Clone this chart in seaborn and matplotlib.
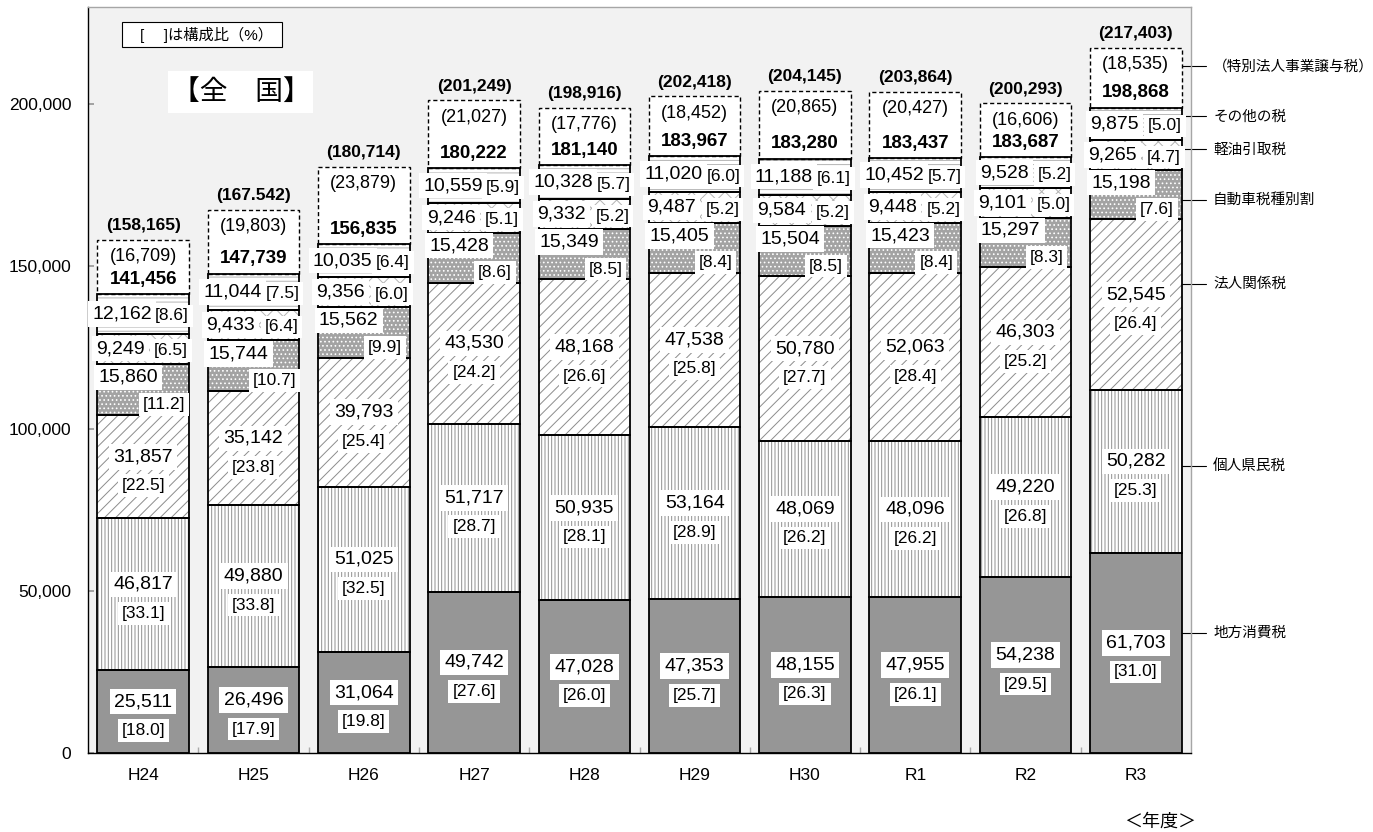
import numpy as np
import matplotlib
matplotlib.use("Agg")
import matplotlib.pyplot as plt
from matplotlib.patches import Rectangle
from matplotlib.ticker import FuncFormatter
import seaborn as sns

# ---------------- data ----------------
years = ["H24", "H25", "H26", "H27", "H28", "H29", "H30", "R1", "R2", "R3"]
chiho_shohi = [25511, 26496, 31064, 49742, 47028, 47353, 48155, 47955, 54238, 61703]
kojin_kenmin = [46817, 49880, 51025, 51717, 50935, 53164, 48069, 48096, 49220, 50282]
hojin_kankei = [31857, 35142, 39793, 43530, 48168, 47538, 50780, 52063, 46303, 52545]
jidosha = [15860, 15744, 15562, 15428, 15349, 15405, 15504, 15423, 15297, 15198]
keiyu = [9249, 9433, 9356, 9246, 9332, 9487, 9584, 9448, 9101, 9265]
sonota = [12162, 11044, 10035, 10559, 10328, 11020, 11188, 10452, 9528, 9875]
tokubetsu = [16709, 19803, 23879, 21027, 17776, 18452, 20865, 20427, 16606, 18535]
subtotal = [141456, 147739, 156835, 180222, 181140, 183967, 183280, 183437, 183687, 198868]
grand_total_labels = ["(158,165)", "(167.542)", "(180,714)", "(201,249)", "(198,916)",
                      "(202,418)", "(204,145)", "(203,864)", "(200,293)", "(217,403)"]

chiho_pct = [18.0, 17.9, 19.8, 27.6, 26.0, 25.7, 26.3, 26.1, 29.5, 31.0]
kojin_pct = [33.1, 33.8, 32.5, 28.7, 28.1, 28.9, 26.2, 26.2, 26.8, 25.3]
hojin_pct = [22.5, 23.8, 25.4, 24.2, 26.6, 25.8, 27.7, 28.4, 25.2, 26.4]
jidosha_pct = [11.2, 10.7, 9.9, 8.6, 8.5, 8.4, 8.5, 8.4, 8.3, 7.6]
keiyu_pct = [6.5, 6.4, 6.0, 5.1, 5.2, 5.2, 5.2, 5.2, 5.0, 4.7]
sonota_pct = [8.6, 7.5, 6.4, 5.9, 5.7, 6.0, 6.1, 5.7, 5.2, 5.0]

series_names = ["地方消費税", "個人県民税", "法人関係税", "自動車税種別割",
                "軽油引取税", "その他の税", "（特別法人事業譲与税）"]

# ---------------- style ----------------
sns.set_theme(style="ticks")
plt.rcParams["font.family"] = ["Liberation Sans", "Noto Sans CJK JP", "DejaVu Sans"]
plt.rcParams["hatch.linewidth"] = 0.7
plt.rcParams["text.color"] = "black"
plt.rcParams["xtick.color"] = "black"
plt.rcParams["ytick.color"] = "black"

W, H = 1373, 832
fig = plt.figure(figsize=(W / 100, H / 100), dpi=100)
ax = fig.add_axes([88 / W, 79 / H, 1103 / W, 746 / H])
ax.set_facecolor("#f2f2f2")

layers = [chiho_shohi, kojin_kenmin, hojin_kankei, jidosha, keiyu, sonota, tokubetsu]
pcts = [chiho_pct, kojin_pct, hojin_pct, jidosha_pct, keiyu_pct, sonota_pct]
arr = np.array(layers, dtype=float)
tops = np.cumsum(arr, axis=0)
bottoms = tops - arr

styles = [
    dict(face="#969696", hatch=None, hc="#969696"),
    dict(face="white", hatch="|||||", hc="#8f8f8f"),
    dict(face="white", hatch="///", hc="#8c8c8c"),
    dict(face="#a3a3a3", hatch="....", hc="white"),
    dict(face="white", hatch="xx", hc="#b4b4b4"),
    dict(face="white", hatch="----", hc="#b4b4b4"),
    dict(face="white", hatch=None, hc="white"),
]
BW = 0.83
for k in reversed(range(len(layers))):
    st = styles[k]
    n0 = len(ax.patches)
    sns.barplot(x=years, y=tops[k], color=st["face"], saturation=1, width=BW,
                errorbar=None, ax=ax)
    for p in ax.patches[n0:]:
        p.set_facecolor(st["face"])
        p.set_edgecolor(st["hc"])
        p.set_linewidth(0)
        if st["hatch"]:
            p.set_hatch(st["hatch"])

x = np.arange(len(years))
for k in range(6):
    ax.bar(x, arr[k], bottom=bottoms[k], width=BW, fill=False,
           edgecolor="black", linewidth=1.3, zorder=2)
ax.bar(x, arr[6], bottom=bottoms[6], width=BW, fill=False, edgecolor="black",
       linewidth=1.0, linestyle=(0, (3, 2)), zorder=2)

box = dict(boxstyle="square,pad=0.22", fc="white", ec="none")


def put(xi, y, txt, dx, dy, size=13, weight="normal", bbox=box):
    ax.annotate(txt, (xi, y), xytext=(dx, dy), textcoords="offset pixels",
                ha="center", va="center", fontsize=size, fontweight=weight,
                bbox=bbox, zorder=5, annotation_clip=False)


# label offsets (value dx, dy, pct dx, dy) in pixels
offs = [(0, 10, 0, -19), (0, 10, 0, -19), (0, 10, 0, -19),
        (-15, 12, 21, -15), (-23, 0, 28, -2), (-21, 0, 29, -2)]
for k in range(6):
    for i in range(len(years)):
        mid = bottoms[k][i] + arr[k][i] / 2
        vdx, vdy, pdx, pdy = offs[k]
        put(i, mid, f"{int(arr[k][i]):,}", vdx, vdy, size=14)
        put(i, mid, f"[{pcts[k][i]:.1f}]", pdx, pdy, size=12.5)

for i in range(len(years)):
    put(i, tops[6][i], f"({tokubetsu[i]:,})", 0, -17, size=13)
    put(i, subtotal[i], f"{subtotal[i]:,}", 0, 15, size=13.5, weight="bold")
    put(i, tops[6][i], grand_total_labels[i], 0, 14, size=12.5, weight="bold", bbox=None)

# right-side series labels pointing at R3
frac = [0.60, 0.53, 0.62, 0.40, 0.69, 0.74, 0.69]
last = len(years) - 1
for k in range(7):
    yv = bottoms[k][last] + frac[k] * arr[k][last]
    ax.plot([last + 0.42, last + 0.64], [yv, yv], color="black", lw=0.8,
            clip_on=False, scalex=False, scaley=False)
    ax.text(last + 0.70, yv, series_names[k], ha="left", va="center",
            fontsize=10.5, clip_on=False)

# axes
ax.set_xlim(-0.5, len(years) - 0.5)
ax.set_ylim(0, 230000)
ax.set_yticks(range(0, 200001, 50000))
ax.yaxis.set_major_formatter(FuncFormatter(lambda v, p: f"{int(v):,}"))
ax.tick_params(axis="y", direction="in", length=4, color="#999999",
               labelsize=12.5, pad=12)
ax.set_xticks(x)
ax.set_xticklabels(years)
ax.tick_params(axis="x", which="major", length=0, labelsize=12.5, pad=11)
ax.set_xticks(np.arange(0.5, len(years) - 1, 1), minor=True)
ax.tick_params(axis="x", which="minor", direction="in", length=4, color="#aaaaaa")
ax.set_xlabel("")
ax.set_ylabel("")
for s in ["left", "bottom"]:
    ax.spines[s].set_color("black")
    ax.spines[s].set_linewidth(1.0)
for s in ["top", "right"]:
    ax.spines[s].set_visible(True)
    ax.spines[s].set_color("#a6a6a6")
    ax.spines[s].set_linewidth(1.0)


def fx(px):
    return px / W


def fy(py):
    return 1 - py / H


# note box
fig.add_artist(Rectangle((fx(122), fy(47)), (282 - 122) / W, 25 / H,
                         transform=fig.transFigure, fc="white", ec="black", lw=0.8))
fig.text(fx(140), fy(35), "[　 ]は構成比（%）", ha="left", va="center", fontsize=11)
# title box
fig.add_artist(Rectangle((fx(168), fy(113)), (313 - 168) / W, 42 / H,
                         transform=fig.transFigure, fc="white", ec="none"))
fig.text(fx(241), fy(93), "【全　国】", ha="center", va="center", fontsize=20)
# year unit
fig.text(fx(1160), fy(822), "＜年度＞", ha="center", va="center", fontsize=13)

fig.savefig("out.png", dpi=100)
